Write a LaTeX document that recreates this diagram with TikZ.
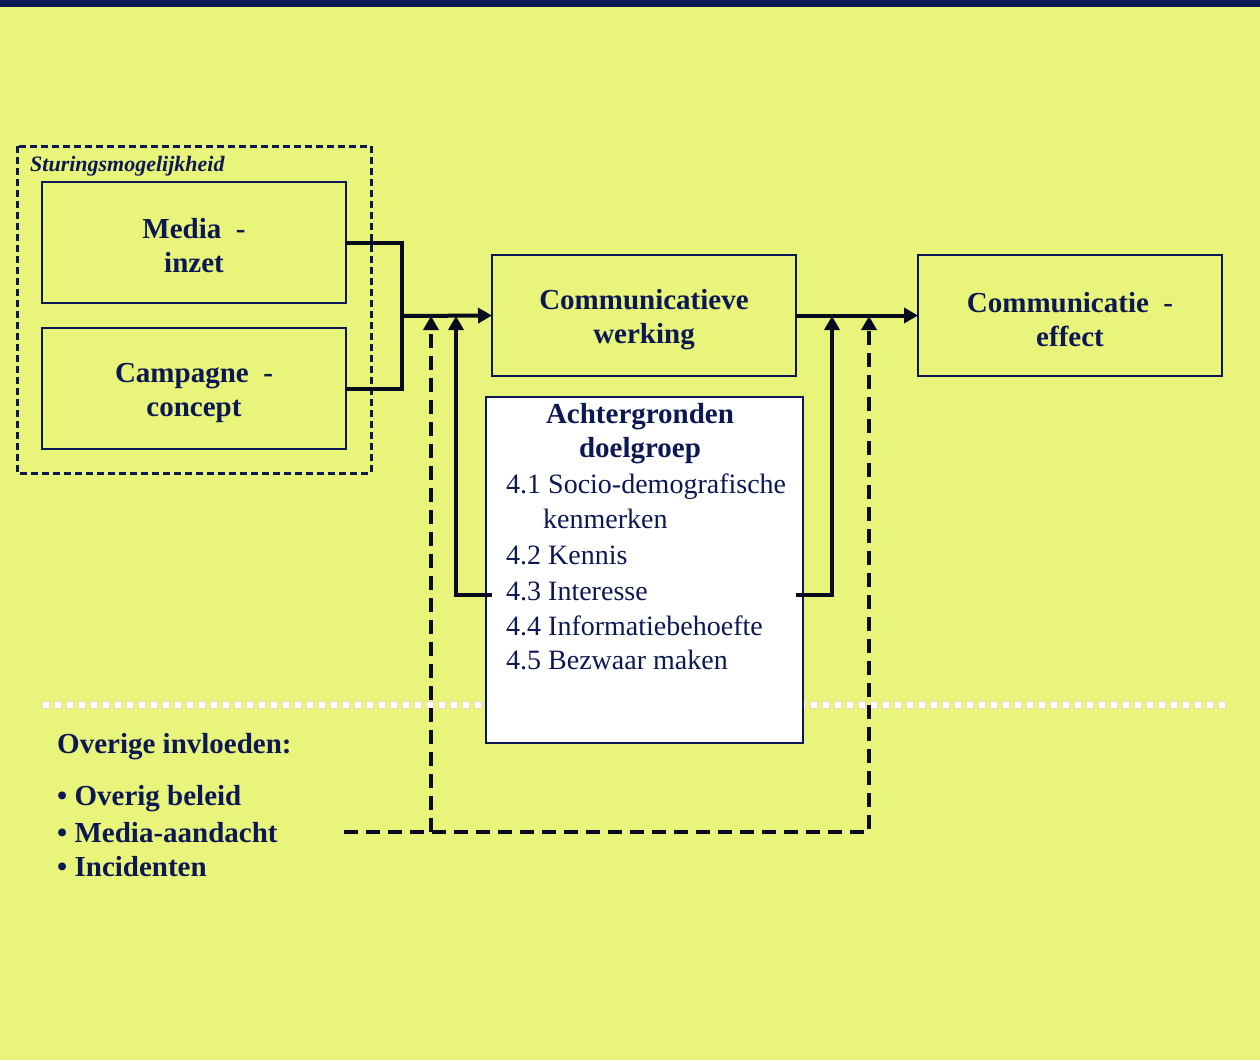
\documentclass[tikz,border=0pt]{standalone}
\usepackage{fontspec}
\setmainfont{Liberation Serif}
\usetikzlibrary{arrows.meta}
\definecolor{bgyellow}{RGB}{232,245,122}
\definecolor{navy}{RGB}{12,24,84}
\definecolor{linkblack}{RGB}{8,10,30}
\definecolor{dotrim}{RGB}{245,214,190}
\tikzset{
  box/.style={draw=navy, line width=1.6pt, inner sep=0pt, outer sep=0pt,
    minimum width=304pt, minimum height=121pt},
  boxtxt/.style={inner sep=0pt, align=center, text=navy,
    font=\fontsize{29}{34}\selectfont\bfseries},
  conn/.style={draw=linkblack, line width=4pt},
  dconn/.style={draw=linkblack, line width=4pt, dash pattern=on 14pt off 8pt},
  tip/.style={-{Triangle[length=14pt,width=15pt]}},
  listtxt/.style={anchor=base west, inner sep=0pt, text=navy,
    font=\fontsize{28}{32}\selectfont},
  boldtxt/.style={inner sep=0pt, text=navy, font=\fontsize{29}{34}\selectfont\bfseries}
}
\begin{document}
\begin{tikzpicture}[x=1pt,y=-1pt]
  % canvas and header bar
  \fill[bgyellow] (0,0) rectangle (1260,1060);
  \useasboundingbox (0,0) rectangle (1260,1060);
  \fill[navy] (0,0) rectangle (1260,6.5);

  % dotted divider
  \draw[dotrim, line width=8pt, dash pattern=on 8pt off 4pt] (42,705) -- (1230,705);
  \draw[white, line width=6pt, dash pattern=on 6pt off 6pt, dash phase=11pt] (42,705) -- (1230,705);

  % steering group
  \draw[navy, line width=3pt, dash pattern=on 7pt off 4pt] (17,146) rectangle (371,473);
  \node[anchor=base west, inner sep=0pt, text=navy,
        font=\fontsize{22}{26}\selectfont\bfseries\itshape] (stur) at (30,171) {Sturingsmogelijkheid};

  \node[box] (media) at (194,242.5) {};
  \node[boxtxt] (mediaT) at ([yshift=-3pt]media.center) {Media\ \ -\\inzet};
  \node[box] (camp)  at (194,388.5) {};
  \node[boxtxt] (campT) at ([yshift=-4pt]camp.center) {Campagne\ \ -\\concept};
  \node[box] (cw)    at (644,315.5) {};
  \node[boxtxt] (cwT) at ([yshift=-4pt]cw.center) {Communicatieve\\werking};
  \node[box] (eff)   at (1070,315.5) {};
  \node[boxtxt] (effT) at ([yshift=-4pt]eff.center) {Communicatie\ \ -\\effect};

  % background of the target group
  \node[draw=navy, fill=white, line width=1.6pt, inner sep=0pt, outer sep=0pt,
        minimum width=317pt, minimum height=346pt] (ach) at (644.5,570) {};
  \node[boldtxt, anchor=base] (achA) at (640,423) {Achtergronden};
  \node[boldtxt, anchor=base] (achB) at (640,457) {doelgroep};
  \node[listtxt] (l1)  at (506,493) {4.1 Socio-demografische};
  \node[listtxt] (l1b) at (543,528) {kenmerken};
  \node[listtxt] (l2)  at (506,564) {4.2 Kennis};
  \node[listtxt] (l3)  at (506,600) {4.3 Interesse};
  \node[listtxt] (l4)  at (506,635) {4.4 Informatiebehoefte};
  \node[listtxt] (l5)  at (506,669) {4.5 Bezwaar maken};

  % other influences
  \node[boldtxt, anchor=base west] (ovh) at (57,753) {Overige invloeden:};
  \node[boldtxt, anchor=base west] (ov1) at (57,805) {• Overig beleid};
  \node[boldtxt, anchor=base west] (ov2) at (57,842) {• Media-aandacht};
  \node[boldtxt, anchor=base west] (ov3) at (57,876) {• Incidenten};

  % junctions
  \coordinate (j1)  at (402,316);
  \coordinate (lvl) at (0,595);
  \coordinate (fbL) at (456,316);
  \coordinate (fbR) at (832,316);
  \coordinate (dL)  at (431,316);
  \coordinate (dR)  at (869,316);
  \coordinate (ovs) at (344,832);
  \coordinate (dj)  at (431,832);

  % main flow
  \draw[conn] (media.east) -| (j1);
  \draw[conn] (camp.east) -| (j1);
  \draw[conn, tip] (j1) -- (cw.west);
  \draw[conn, tip] (cw.east) -- (eff.west);

  % feedback from the target group
  \draw[conn, tip] (cw.west |- lvl) -| (fbL);
  \draw[conn, tip] (cw.east |- lvl) -| (fbR);

  % influence of other factors
  \draw[dconn, tip] (ovs) -| (dR);
  \draw[dconn, tip] (dj) -- (dL);
\end{tikzpicture}
\end{document}
